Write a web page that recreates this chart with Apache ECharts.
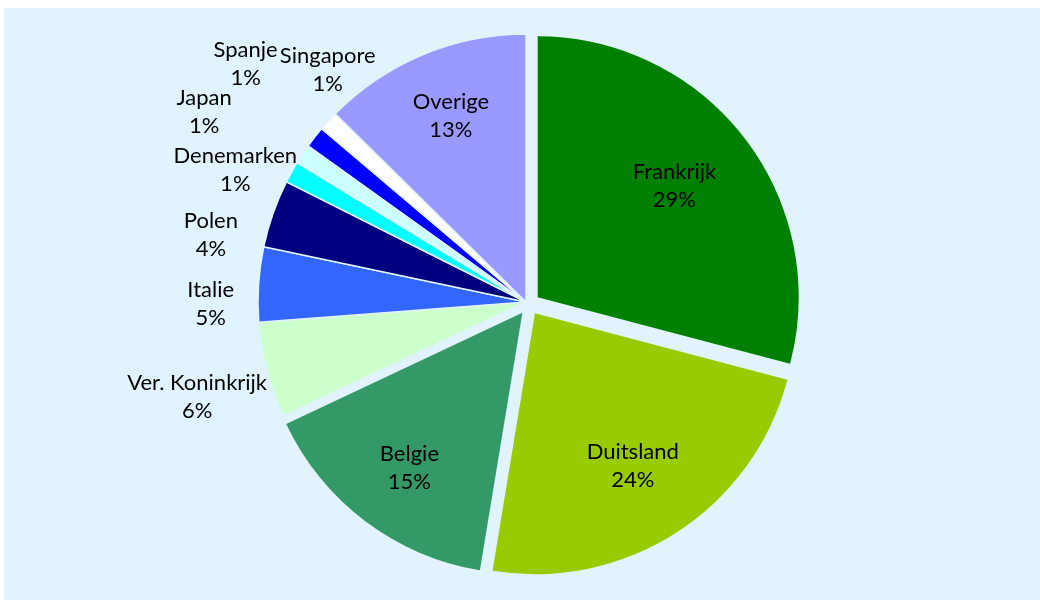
<!DOCTYPE html>
<html>
<head>
<meta charset="utf-8">
<script src="https://cdn.jsdelivr.net/npm/echarts@6/dist/echarts.min.js"></script>
<style>
  html, body { margin: 0; background: #fff; }
  #wrap { position: relative; width: 1040px; height: 600px; }
  #chart { position: absolute; left: 4px; top: 8px; width: 1036px; height: 592px; background: #e1f3fd; }
</style>
</head>
<body>
<div id="wrap"><div id="chart"></div></div>
<script>
// landen, met de klok mee vanaf 12 uur
var landen = ['Frankrijk', 'Duitsland', 'Belgie', 'Ver. Koninkrijk', 'Italie', 'Polen',
  'Denemarken', 'Japan', 'Spanje', 'Singapore', 'Overige'];
// aandeel (%)
var aandeel = [29.1, 23.5, 15.4, 5.8, 4.5, 4.1, 1.3, 1.2, 1.3, 1.2, 12.6];
// losgetrokken taartpunten
var uitgelicht = ['Frankrijk', 'Duitsland', 'Belgie'];
// labels binnen in de taart, de rest staat erbuiten
var labelBinnen = ['Frankrijk', 'Duitsland', 'Belgie', 'Overige'];

var kleuren = ['#008000', '#99cc00', '#339966', '#ccffcc', '#3366ff', '#000080',
  '#00ffff', '#ccffff', '#0000ff', '#ffffff', '#9999ff'];
// kleine verschuiving van de labels (zoals excel ze neerzet)
var labelVerschuiving = {
  'Frankrijk': [-10, 6],
  'Duitsland': [-2, -4],
  'Belgie': [4, 6],
  'Overige': [2, -2],
  'Ver. Koninkrijk': [-2, 9],
  'Italie': [22, 24],
  'Polen': [4, 44],
  'Denemarken': [5, 32],
  'Japan': [-40, -4],
  'Spanje': [-14, -30],
  'Singapore': [51, -4]
};

var bg = '#e1f3fd';
var leeg = 'rgba(0,0,0,0)';
var midden = [522, 294];
var middenLos = [525, 296];
var tekst = {
  color: '#000',
  fontFamily: 'Lato',
  fontSize: 22,
  lineHeight: 28,
  formatter: '{b}\n{d}%'
};

function isLos(naam) {
  return uitgelicht.indexOf(naam) > -1;
}

function labelRing(radius, binnen) {
  return {
    type: 'pie',
    silent: true,
    center: midden,
    radius: radius,
    startAngle: 90,
    clockwise: true,
    percentPrecision: 0,
    avoidLabelOverlap: false,
    labelLayout: { hideOverlap: false },
    itemStyle: { color: leeg, borderWidth: 0 },
    labelLine: { show: false },
    label: Object.assign({ show: true, position: 'inside' }, tekst),
    emphasis: { disabled: true },
    data: landen.map(function (naam, i) {
      var toon = (labelBinnen.indexOf(naam) > -1) === binnen;
      return {
        name: naam,
        value: aandeel[i],
        label: { show: toon, offset: labelVerschuiving[naam] || [0, 0] }
      };
    })
  };
}

var chart = echarts.init(document.getElementById('chart'));
chart.setOption({
  animation: false,
  series: [
    {
      // vaste taartpunten
      type: 'pie',
      center: midden,
      radius: 268,
      startAngle: 90,
      clockwise: true,
      label: { show: false },
      labelLine: { show: false },
      itemStyle: { borderColor: bg, borderWidth: 1.5 },
      emphasis: { disabled: true },
      data: landen.map(function (naam, i) {
        return {
          name: naam,
          value: aandeel[i],
          itemStyle: isLos(naam) ? { color: leeg, borderWidth: 0 } : { color: kleuren[i] }
        };
      })
    },
    {
      // losgetrokken taartpunten
      type: 'pie',
      center: middenLos,
      radius: 261,
      startAngle: 90,
      clockwise: true,
      selectedMode: 'multiple',
      selectedOffset: 11,
      label: { show: false },
      labelLine: { show: false },
      itemStyle: { borderWidth: 0 },
      emphasis: { disabled: true },
      select: { itemStyle: { borderWidth: 0 } },
      data: landen.map(function (naam, i) {
        return {
          name: naam,
          value: aandeel[i],
          selected: isLos(naam),
          itemStyle: { color: isLos(naam) ? kleuren[i] : leeg }
        };
      })
    },
    labelRing([124, 270], true),
    labelRing([270, 400], false)
  ]
});
</script>
</body>
</html>
